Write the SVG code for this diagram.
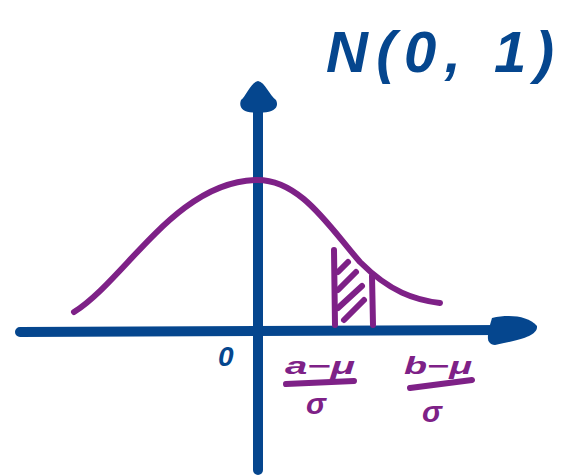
<svg xmlns="http://www.w3.org/2000/svg" width="570" height="475" viewBox="0 0 570 475">
<style>
.ax{stroke:#05468E;stroke-width:10;stroke-linecap:round;fill:none}
.ah{fill:#05468E}
.cv{stroke:#7E2187;stroke-width:6;stroke-linecap:round;stroke-linejoin:round;fill:none}
.pl{font-family:"Liberation Sans",Arial,sans-serif;font-weight:bold;font-style:italic;fill:#7E2187}
.bl{font-family:"Liberation Sans",Arial,sans-serif;font-weight:bold;font-style:italic;fill:#05468E}
</style>
<rect width="570" height="475" fill="#fff"/>
<g id="connectors">
<path class="ax" d="M20,332 L505,330"/>
<path class="ah" d="M492,318 C510,314 528,316 537,326 C538,336 520,340 495,345 C485,344 487,335 492,318 Z"/>
<path class="ax" d="M258,470 L258,105"/>
<path class="ah" d="M258,81 C265,82 270,96 276,100 C280,108 272,114 258,112 C244,114 238,108 241,100 C246,96 251,82 258,81 Z"/>
</g>
<g id="curve">
<path class="cv" d="M74,312 C125,280 175,183 255,180 C300,178 330,228 360,262 C390,292 415,300 440,303"/>
</g>
<g id="shaded">
<path class="cv" d="M334,250 L335,325 M372,276 L373,325"/>
<path class="cv" stroke-width="5" d="M338,272 L348,262 M338,290 L356,272 M338,308 L362,286 M344,320 L364,300"/>
</g>
<g id="title">
<text class="bl" x="326" y="72" font-size="58" textLength="228" lengthAdjust="spacing">N(0, 1)</text>
</g>
<g id="origin">
<text class="bl" x="218" y="366" font-size="28">0</text>
</g>
<g id="label-a">
<text class="pl" x="285" y="374" font-size="24" textLength="70" lengthAdjust="spacingAndGlyphs">a−μ</text>
<path class="cv" d="M286,384 L354,381"/>
<text class="pl" x="306" y="414" font-size="30">σ</text>
</g>
<g id="label-b">
<text class="pl" x="404" y="374" font-size="24" textLength="68" lengthAdjust="spacingAndGlyphs">b−μ</text>
<path class="cv" d="M410,388 L472,380"/>
<text class="pl" x="422" y="422" font-size="30">σ</text>
</g>
</svg>
